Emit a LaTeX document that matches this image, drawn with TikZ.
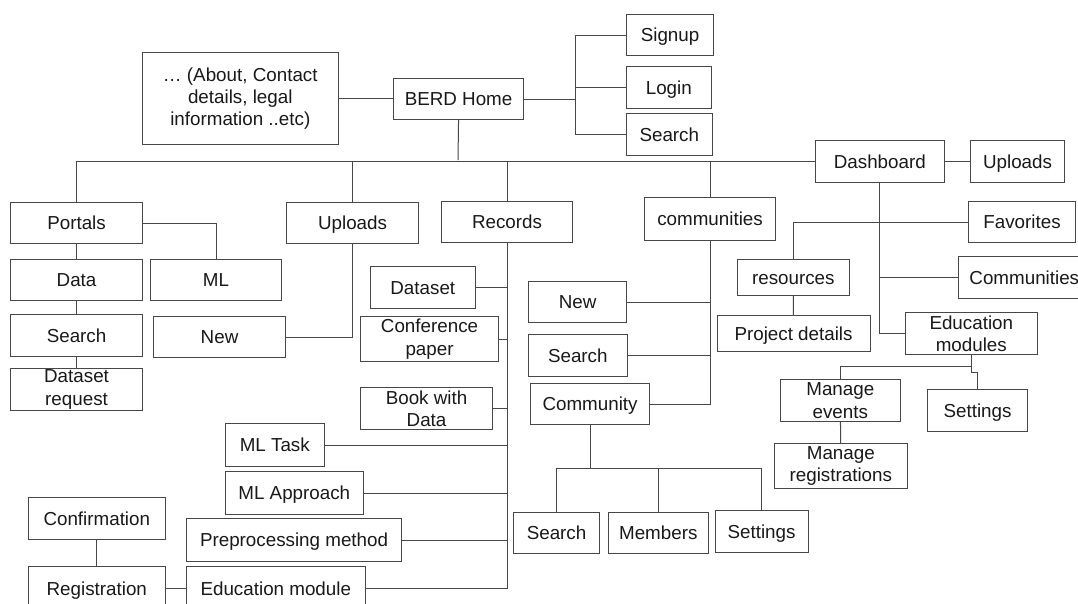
\documentclass[tikz,border=0pt]{standalone}
\usepackage{fontspec}
\setmainfont{Liberation Sans}
\begin{document}
\begin{tikzpicture}[x=1pt,y=-1pt,
  pg/.style={draw=black!72, line width=1.1pt, fill=white, inner sep=0pt,
    align=center, text=black!90, font=\fontsize{18.8}{22.4}\selectfont},
  oneline/.style={text height=13.5pt, text depth=0pt},
  wire/.style={draw=black!72, line width=1pt}]
% single-line box and multi-line box, given by their corners
\newcommand{\pbox}[6]{\node[pg, oneline, minimum width={(#4-#2)*1pt}, minimum height={(#5-#3)*1pt}, anchor=north west] (#1) at (#2,#3) {#6};}
\newcommand{\pboxm}[6]{\node[pg, minimum width={(#4-#2)*1pt}, minimum height={(#5-#3)*1pt}, anchor=north west] (#1) at (#2,#3) {#6};}
\useasboundingbox (0,0) rectangle (1078,603);
\fill[white] (0,0) rectangle (1078,603);

% top level
\pboxm{about}{141.5}{52}{338}{144}{… (About, Contact\\details, legal\\information ..etc)}
\pbox{home}{393}{78}{523}{119}{BERD Home}
\pbox{signup}{626}{14}{713}{55}{Signup}
\pbox{login}{626}{66}{710.5}{108}{Login}
\pbox{hsearch}{626}{113}{711.5}{155}{Search}
\pbox{dash}{814.5}{140}{944}{182}{Dashboard}
\pbox{dupl}{970}{140}{1064}{182}{Uploads}

% second level
\pbox{portals}{10}{202}{142}{243}{Portals}
\pbox{uploads}{286}{202}{418}{243}{Uploads}
\pbox{records}{441}{201}{572}{242}{Records}
\pbox{comms}{644}{197}{775}{240}{communities}

% portals branch
\pbox{data}{10}{259}{142}{300}{Data}
\pbox{ml}{150}{259}{281}{300}{ML}
\pbox{psearch}{10}{314}{142}{356}{Search}
\pboxm{dreq}{10}{368}{142}{410}{Dataset\\request}

% uploads branch
\pbox{unew}{153}{316}{285}{357}{New}

% records branch
\pbox{dataset}{370}{266}{474.5}{308}{Dataset}
\pboxm{conf}{360}{316}{498}{361}{Conference\\paper}
\pboxm{book}{360}{387}{492}{429}{Book with\\Data}
\pbox{mltask}{225}{423}{323.5}{466}{ML Task}
\pbox{mlapp}{225}{471}{362.5}{514}{ML Approach}
\pbox{prep}{186}{518}{401}{561}{Preprocessing method}
\pbox{edumod}{186}{566}{364.5}{610}{Education module}
\pbox{reg}{27.5}{566}{165}{610}{Registration}
\pbox{confirm}{27.5}{497}{165}{539}{Confirmation}

% communities branch
\pbox{cnew}{528}{281}{626}{322}{New}
\pbox{csearch}{528}{334}{626.5}{376}{Search}
\pbox{community}{530}{383}{649}{424}{Community}
\pbox{cmsearch}{513}{512}{599}{553}{Search}
\pbox{members}{607.5}{512}{708}{553}{Members}
\pbox{cmset}{714.5}{510}{807.5}{552}{Settings}

% dashboard branch
\pbox{fav}{968}{201}{1075}{242}{Favorites}
\pbox{dcomms}{957.5}{256}{1090}{298}{Communities}
\pbox{res}{736.5}{259}{849}{295}{resources}
\pbox{projdet}{716.5}{315}{869.5}{351}{Project details}
\pboxm{edus}{905}{312}{1036.5}{354}{Education\\modules}
\pboxm{mev}{780}{379}{899.5}{421}{Manage\\events}
\pbox{eset}{927}{389}{1027}{431}{Settings}
\pboxm{mreg}{774}{443}{906.5}{488}{Manage\\registrations}

% junction points
\coordinate (brk) at (575,98.5);
\coordinate (bus) at (458,160);
\coordinate (cb) at (0,468);
\coordinate (e1) at (0,366);
\coordinate (e2) at (0,372);

% home connections
\draw[wire] (about.east) -- (about.east -| home.west);
\draw[wire] (home.east) -- (home.east -| brk);
\draw[wire] (signup.west) -| (brk);
\draw[wire] (hsearch.west) -| (brk);
\draw[wire] (login.west) -- (login.west -| brk);
\draw[wire] (home.south) -- (bus);
\draw[wire] (portals.north) |- (dash.west);
\draw[wire] (uploads.north) -- (uploads.north |- dash.west);
\draw[wire] (records.north) -- (records.north |- dash.west);
\draw[wire] (comms.north) -- (comms.north |- dash.west);
\draw[wire] (dash) -- (dupl);

% portals
\draw[wire] (portals.east) -| (ml.north);
\draw[wire] (portals) -- (data);
\draw[wire] (data) -- (psearch);
\draw[wire] (psearch) -- (dreq);

% uploads
\draw[wire] (uploads.south) |- (unew.east);

% records
\draw[wire] (records.south) |- (edumod.east);
\foreach \n in {dataset,conf,book,mltask,mlapp,prep}
  \draw[wire] (\n.east) -- (\n.east -| records.south);
\draw[wire] (reg) -- (edumod);
\draw[wire] (confirm) -- (reg);

% communities
\draw[wire] (comms.south) |- (community.east);
\draw[wire] (cnew.east) -- (cnew.east -| comms.south);
\draw[wire] (csearch.east) -- (csearch.east -| comms.south);
\draw[wire] (community.south) -- (community.south |- cb);
\draw[wire] (cmsearch.north) |- (cmset.north |- cb) -- (cmset.north);
\draw[wire] (members.north) -- (members.north |- cb);

% dashboard
\draw[wire] (dash.south) |- (edus.west);
\draw[wire] (res.north) |- (fav.west);
\draw[wire] (dcomms.west) -- (dcomms.west -| dash.south);
\draw[wire] (res) -- (projdet);
\draw[wire] (edus.south) -- (edus.south |- e1) -| (mev.north);
\draw[wire] (edus.south |- e1) -- (edus.south |- e2) -| (eset.north);
\draw[wire] (mev) -- (mreg);
\end{tikzpicture}
\end{document}
